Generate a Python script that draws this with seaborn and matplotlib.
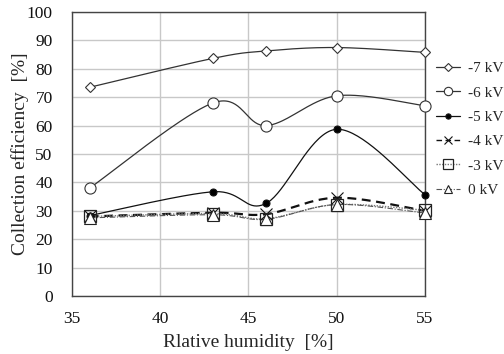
import numpy as np
import matplotlib
matplotlib.use("Agg")
import matplotlib.pyplot as plt
import seaborn as sns
from matplotlib.lines import Line2D

humidity = [36, 43, 46, 50, 55]
series_labels = ["-7 kV", "-6 kV", "-5 kV", "-4 kV", "-3 kV", "0 kV"]
eff_m7 = [73.5, 83.7, 86.3, 87.5, 85.8]
eff_m6 = [38.0, 68.0, 60.0, 70.5, 67.0]
eff_m5 = [28.3, 36.7, 32.6, 58.7, 35.7]
eff_m4 = [28.0, 29.3, 28.8, 34.6, 30.0]
eff_m3 = [28.0, 29.0, 27.2, 32.2, 30.2]
eff_0 = [27.5, 28.6, 27.0, 32.2, 29.2]
x_ticks = [35, 40, 45, 50, 55]
y_ticks = [0, 10, 20, 30, 40, 50, 60, 70, 80, 90, 100]

series = [eff_m7, eff_m6, eff_m5, eff_m4, eff_m3, eff_0]
styles = [
    dict(color="#333333", ls="-", lw=0.9, marker="D", ms=5, mfc="white", mew=0.8),
    dict(color="#333333", ls="-", lw=0.9, marker="o", ms=8, mfc="white", mew=0.8),
    dict(color="#111111", ls="-", lw=0.9, marker="o", ms=5, mfc="black", mew=0.8),
    dict(color="#111111", ls=(0, (4, 2.5)), lw=1.6, marker="x", ms=8, mfc="none", mew=0.8),
    dict(color="#777777", ls=(0, (1, 1)), lw=1.0, marker="s", ms=9, mfc="none", mew=0.9, mec="#222222"),
    dict(color="#555555", ls=(0, (5, 1.5, 1, 1.5)), lw=0.8, marker="^", ms=8, mfc="white", mew=0.8, mec="#222222"),
]


def smooth(xs, ys, n=40):
    """Catmull-Rom style smoothed line through the points."""
    xs = np.asarray(xs, float)
    ys = np.asarray(ys, float)
    px = np.concatenate([[xs[0]], xs, [xs[-1]]])
    py = np.concatenate([[ys[0]], ys, [ys[-1]]])
    out_x, out_y = [], []
    t = np.linspace(0, 1, n)
    for i in range(1, len(px) - 2):
        p0 = np.array([px[i], py[i]])
        p3 = np.array([px[i + 1], py[i + 1]])
        c1 = p0 + (np.array([px[i + 1], py[i + 1]]) - np.array([px[i - 1], py[i - 1]])) / 6
        c2 = p3 - (np.array([px[i + 2], py[i + 2]]) - np.array([px[i], py[i]])) / 6
        b = ((1 - t) ** 3)[:, None] * p0 + (3 * (1 - t) ** 2 * t)[:, None] * c1 \
            + (3 * (1 - t) * t ** 2)[:, None] * c2 + (t ** 3)[:, None] * p3
        out_x.extend(b[:, 0])
        out_y.extend(b[:, 1])
    return np.array(out_x), np.array(out_y)


sns.set_style("whitegrid", {"grid.color": "#c8c8c8", "axes.edgecolor": "#444444"})
plt.rcParams["font.family"] = ["Liberation Serif", "DejaVu Serif"]

fig = plt.figure(figsize=(5.04, 3.54), dpi=100)
ax = fig.add_axes([0.143, 0.164, 0.700, 0.802])

handles = []
for ys, st, lab in zip(series, styles, series_labels):
    sx, sy = smooth(humidity, ys)
    ax.plot(sx, sy, color=st["color"], ls=st["ls"], lw=st["lw"], zorder=2)
    mec = st.get("mec", st["color"])
    ax.plot(humidity, ys, ls="none", marker=st["marker"], ms=st["ms"], mfc=st["mfc"],
            mec=mec, mew=st["mew"], zorder=3, clip_on=False)
    handles.append(Line2D([], [], color=st["color"], ls=st["ls"], lw=min(st["lw"], 1.0),
                          marker=st["marker"], ms=st["ms"] * 0.75, mfc=st["mfc"],
                          mec=mec, mew=st["mew"]))

ax.set_xlim(35, 55)
ax.set_ylim(0, 100)
ax.set_xticks(x_ticks)
ax.set_yticks(y_ticks)
ax.grid(True, color="#c8c8c8", lw=1.0)
for s in ax.spines.values():
    s.set_color("#444444")
    s.set_linewidth(1.0)
ax.tick_params(labelsize=12.5, length=0, colors="#111111")
ax.tick_params(axis="x", pad=11)
ax.tick_params(axis="y", pad=14)
ax.set_xlabel("Rlative humidity  [%]", fontsize=14, labelpad=5)
ax.set_ylabel("Collection efficiency  [%]", fontsize=14, labelpad=-2)

fig.legend(handles=handles, labels=series_labels, loc="upper left",
           bbox_to_anchor=(0.865, 0.826), frameon=False, fontsize=11,
           handlelength=1.6, handletextpad=0.5, labelspacing=0.7, borderaxespad=0,
           borderpad=0)

fig.savefig("out.png", dpi=100)
